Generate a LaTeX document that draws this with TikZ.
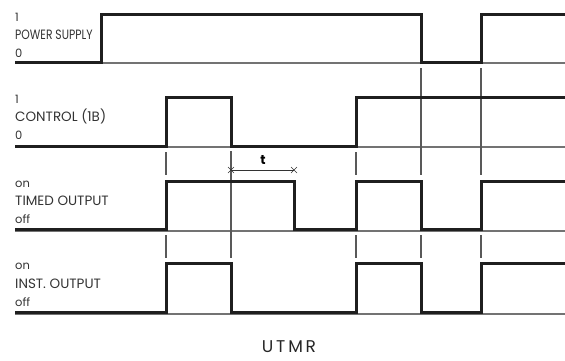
\documentclass[tikz,border=0pt]{standalone}
\usepackage{fontspec}
\setmainfont{Poppins}
\usetikzlibrary{calc}
\begin{document}
\begin{tikzpicture}[x=1pt,y=-1pt,
  base/.style={draw=black!55,line width=1.3pt},
  trace/.style={draw=black!88,line width=3pt,line join=miter,line cap=butt},
  tick/.style={draw=black!65,line width=1.1pt},
  xmark/.style={draw=black!80,line width=0.6pt},
  lab/.style={anchor=base west,inner sep=0pt,font=\fontsize{13.5}{15}\selectfont,text=black!80},
  lvl/.style={anchor=base west,inner sep=0pt,font=\fontsize{11.5}{13}\selectfont,text=black!80}]
\useasboundingbox (0,0) rectangle (565,360);
% baselines
\foreach \y in {63,147,231,314} \draw[base] (15,\y) -- (565,\y);
% ticks
\draw[tick] (421,68) -- (421,175);
\draw[tick] (481,68) -- (481,175);
\foreach \x in {166,356} \draw[tick] (\x,152) -- (\x,175);
\draw[tick] (231,151) -- (231,258);
\foreach \x in {166,356,421,481} \draw[tick] (\x,235) -- (\x,258);
% traces
\draw[trace] (15,62) -- (101,62) -- (101,14) -- (421,14) -- (421,62) -- (481,62) -- (481,14) -- (565,14);
\draw[trace] (15,146) -- (166,146) -- (166,97) -- (231,97) -- (231,146) -- (356,146) -- (356,97) -- (565,97);
\draw[trace] (15,229) -- (166,229) -- (166,181) -- (294,181) -- (294,229) -- (356,229) -- (356,181) -- (421,181) -- (421,229) -- (481,229) -- (481,181) -- (565,181);
\draw[trace] (15,312) -- (166,312) -- (166,263) -- (231,263) -- (231,312) -- (356,312) -- (356,263) -- (421,263) -- (421,312) -- (481,312) -- (481,263) -- (565,263);
% t dimension
\coordinate (t1) at (231,170);
\coordinate (t2) at (294,170);
\draw[black!80,line width=0.8pt] (t1) -- (t2);
\foreach \c in {t1,t2}
  \draw[xmark] ($(\c)+(-3,-3)$) -- ($(\c)+(3,3)$) ($(\c)+(-3,3)$) -- ($(\c)+(3,-3)$);
\node[font=\fontsize{13}{15}\selectfont\bfseries,inner sep=0pt] (t) at (263,160) {t};
% labels
\node[lvl] (p1) at (15,21) {1};
\node[lab] (p2) at (15,39) {\scalebox{0.8}[1]{POWER SUPPLY}};
\node[lvl] (p0) at (15,57) {0};
\node[lvl] (c1) at (15,103) {1};
\node[lab] (c2) at (15,121) {CONTROL (1B)};
\node[lvl] (c0) at (15,139) {0};
\node[lvl] (o1) at (15,187) {on};
\node[lab] (o2) at (15,205) {TIMED OUTPUT};
\node[lvl] (o0) at (15,223) {off};
\node[lvl] (i1) at (15,269) {on};
\node[lab] (i2) at (15,288) {INST. OUTPUT};
\node[lvl] (i0) at (15,306) {off};
\node[font=\fontsize{17}{19}\selectfont,text=black!85,inner sep=0pt] (title) at (289,347) {U\,T\,M\,R};
\end{tikzpicture}
\end{document}
